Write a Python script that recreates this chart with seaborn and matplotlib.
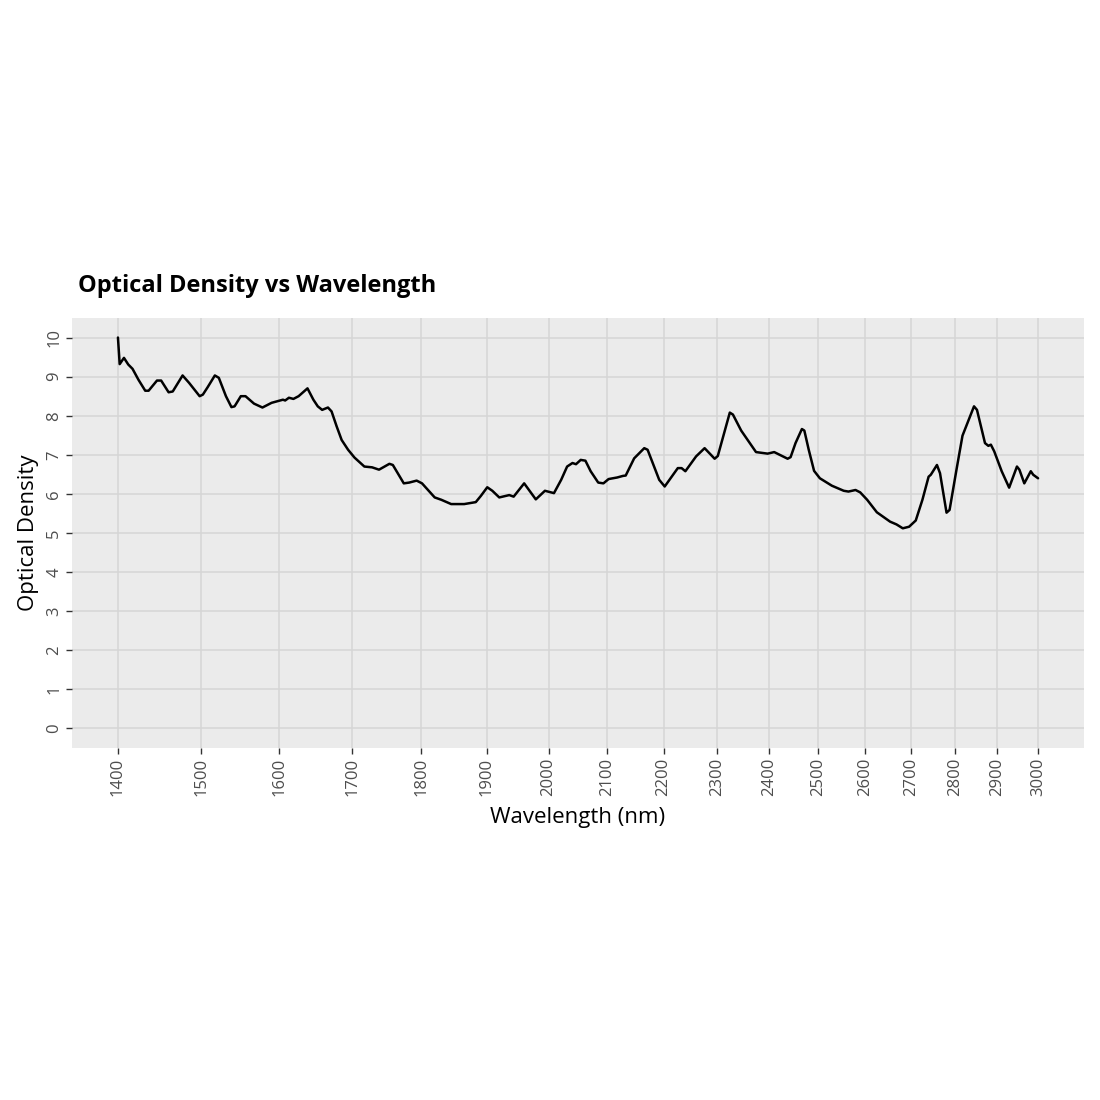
import numpy as np
import pandas as pd
import matplotlib
matplotlib.use("Agg")
import matplotlib.pyplot as plt
import matplotlib.ticker as mticker
import seaborn as sns

wavelength = [1400, 1402, 1407, 1412, 1417, 1424, 1432, 1436, 1446, 1451, 1460, 1465, 1477, 1485,
              1498, 1502, 1508, 1517, 1522, 1531, 1538, 1542, 1550, 1556, 1567, 1578, 1590, 1605,
              1608, 1613, 1619, 1626, 1638, 1646, 1652, 1658, 1666, 1671, 1678, 1685, 1694, 1703,
              1717, 1728, 1738, 1753, 1758, 1774, 1782, 1793, 1801, 1820, 1830, 1845, 1865, 1883,
              1891, 1901, 1909, 1920, 1936, 1943, 1960, 1979, 1994, 2009, 2021, 2031, 2040, 2046,
              2054, 2062, 2071, 2084, 2093, 2102, 2117, 2127, 2132, 2147, 2165, 2171, 2192, 2202,
              2226, 2233, 2240, 2260, 2276, 2295, 2301, 2324, 2330, 2346, 2375, 2398, 2411, 2438,
              2444, 2454, 2467, 2472, 2481, 2492, 2504, 2529, 2554, 2564, 2579, 2589, 2604, 2625,
              2654, 2668, 2682, 2696, 2711, 2726, 2740, 2745, 2759, 2766, 2781, 2788, 2804, 2818,
              2845, 2852, 2871, 2879, 2885, 2893, 2911, 2929, 2948, 2954, 2966, 2982, 2988, 3000]
optical_density = [10.0, 9.32, 9.48, 9.31, 9.2, 8.92, 8.64, 8.64, 8.9, 8.9, 8.6, 8.62, 9.03, 8.84,
                   8.5, 8.54, 8.73, 9.03, 8.97, 8.5, 8.22, 8.24, 8.5, 8.5, 8.31, 8.21, 8.33, 8.41,
                   8.39, 8.46, 8.43, 8.5, 8.7, 8.41, 8.24, 8.15, 8.21, 8.11, 7.73, 7.38, 7.13, 6.93,
                   6.7, 6.68, 6.62, 6.77, 6.74, 6.27, 6.29, 6.34, 6.27, 5.91, 5.85, 5.74, 5.74, 5.79,
                   5.95, 6.17, 6.08, 5.91, 5.97, 5.93, 6.27, 5.86, 6.08, 6.02, 6.36, 6.7, 6.79, 6.76,
                   6.87, 6.85, 6.58, 6.29, 6.27, 6.38, 6.42, 6.46, 6.47, 6.91, 7.17, 7.13, 6.36, 6.19,
                   6.66, 6.66, 6.58, 6.96, 7.17, 6.9, 6.97, 8.08, 8.03, 7.62, 7.07, 7.03, 7.07, 6.9,
                   6.94, 7.3, 7.66, 7.62, 7.13, 6.59, 6.4, 6.21, 6.08, 6.06, 6.1, 6.04, 5.85, 5.53,
                   5.29, 5.22, 5.12, 5.16, 5.32, 5.85, 6.44, 6.49, 6.74, 6.53, 5.52, 5.59, 6.62, 7.49,
                   8.24, 8.15, 7.3, 7.23, 7.26, 7.09, 6.58, 6.16, 6.7, 6.62, 6.27, 6.58, 6.49, 6.4]

x_ticks = list(range(1400, 3001, 100))
y_ticks = list(range(0, 11))

df = pd.DataFrame({"Wavelength (nm)": wavelength, "Optical Density": optical_density})

sns.set_theme(style="darkgrid")
plt.rcParams["font.family"] = ["Open Sans", "DejaVu Sans"]

fig = plt.figure(figsize=(11, 11), dpi=100)
ax = fig.add_axes([72 / 1100, 1 - 748 / 1100, (1084 - 72) / 1100, (748 - 318) / 1100])
ax.set_facecolor("#EBEBEB")

sns.lineplot(data=df, x="Wavelength (nm)", y="Optical Density", ax=ax,
             color="black", linewidth=1.8, estimator=None, sort=False)

ax.set_xscale("log")
ax.set_xlim(1400 * np.exp(-46 / 1208.6), 3000 * np.exp(46 / 1208.6))
ax.set_ylim(-0.5, 10.5)
ax.xaxis.set_major_locator(mticker.FixedLocator(x_ticks))
ax.xaxis.set_minor_locator(mticker.NullLocator())
ax.xaxis.set_major_formatter(mticker.FixedFormatter([str(t) for t in x_ticks]))
ax.yaxis.set_major_locator(mticker.FixedLocator(y_ticks))
ax.set_yticklabels([str(t) for t in y_ticks])

ax.grid(True, which="major", color="#D6D6D6", linewidth=1.1)
ax.set_axisbelow(True)
for s in ax.spines.values():
    s.set_visible(False)

ax.tick_params(axis="both", which="major", length=4, width=1, color="#333333",
               labelcolor="#4D4D4D", labelsize=12, pad=3, direction="out",
               bottom=True, left=True)
for lab in ax.get_xticklabels():
    lab.set_rotation(90)
for lab in ax.get_yticklabels():
    lab.set_rotation(90)
    lab.set_va("center")

ax.set_xlabel("Wavelength (nm)", fontsize=16, color="black", labelpad=8)
ax.set_ylabel("Optical Density", fontsize=16, color="black", labelpad=5)

fig.text(78 / 1100, 1 - 292 / 1100, "Optical Density vs Wavelength", fontsize=17,
         fontweight="bold", color="black", ha="left", va="baseline")

fig.savefig("out.png", dpi=100, facecolor="white")
